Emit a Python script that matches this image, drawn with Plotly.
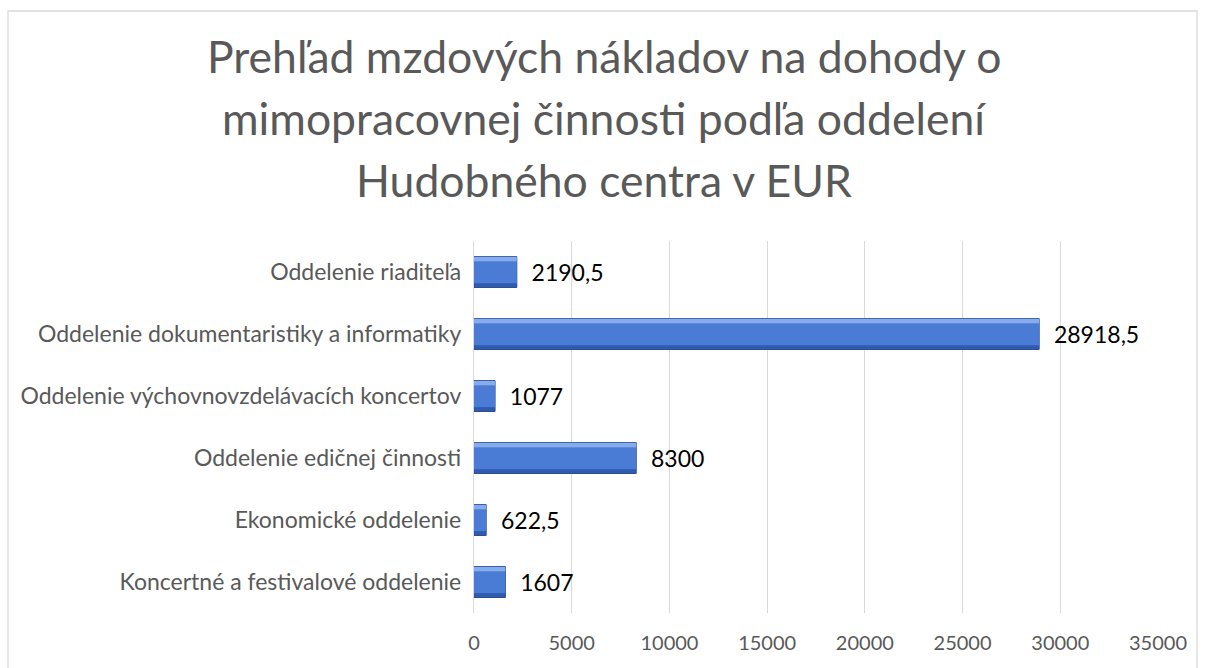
import plotly.graph_objects as go

categories = [
    "Koncertné a festivalové oddelenie",
    "Ekonomické oddelenie",
    "Oddelenie edičnej činnosti",
    "Oddelenie výchovnovzdelávacích koncertov",
    "Oddelenie dokumentaristiky a informatiky",
    "Oddelenie riaditeľa",
]
values = [1607, 622.5, 8300, 1077, 28918.5, 2190.5]
value_labels = ["1607", "622,5", "8300", "1077", "28918,5", "2190,5"]
tick_vals = [0, 5000, 10000, 15000, 20000, 25000, 30000, 35000]
title_lines = [
    "Prehľad mzdových nákladov na dohody o",
    "mimopracovnej činnosti podľa oddelení",
    "Hudobného centra v EUR",
]

FONT = "Lato, Open Sans, sans-serif"
L, R, T, B = 474, 49, 241, 55
W, H = 1207, 668
pw, ph = W - L - R, H - T - B

fig = go.Figure()
# base bar (dark bevel at bottom / outline)
fig.add_trace(go.Bar(
    y=categories, x=values, orientation="h", width=0.5,
    marker=dict(color="#2F5AAE", line=dict(color="#2A4F98", width=1)),
    text=["\u00a0\u00a0" + s for s in value_labels], textposition="outside",
    textfont=dict(family=FONT, size=23, color="#000000"),
    cliponaxis=False, hoverinfo="skip", showlegend=False,
))
# face of the bevelled bar
fig.add_trace(go.Bar(
    y=categories, x=values, orientation="h", width=0.35, offset=-0.18,
    marker=dict(color="#4A7CD6", line=dict(width=0)),
    hoverinfo="skip", showlegend=False,
))
# upper highlight
fig.add_trace(go.Bar(
    y=categories, x=values, orientation="h", width=0.075, offset=0.17,
    marker=dict(color="#86ACEE", line=dict(width=0)),
    hoverinfo="skip", showlegend=False,
))

fig.update_layout(
    width=W, height=H,
    margin=dict(l=L, r=R, t=T, b=B),
    paper_bgcolor="white", plot_bgcolor="white",
    barmode="overlay",
    font=dict(family=FONT, color="#595959"),
    xaxis=dict(
        range=[0, 35000], tickvals=tick_vals, ticktext=[str(v) for v in tick_vals],
        showgrid=True, gridcolor="#D9D9D9", gridwidth=1.3,
        zeroline=False, showline=False, ticks="", ticklabelstandoff=16,
        tickfont=dict(family=FONT, size=20, color="#595959"),
    ),
    yaxis=dict(
        categoryorder="array", categoryarray=categories,
        showgrid=False, zeroline=False, showline=True, linecolor="#D9D9D9", linewidth=1.3,
        ticks="", ticklabelstandoff=7,
        tickfont=dict(family=FONT, size=23, color="#595959"),
    ),
)

title_y_px = [55, 117, 180]
for line, py in zip(title_lines, title_y_px):
    fig.add_annotation(
        text=line, xref="paper", yref="paper",
        x=(W / 2 - L) / pw, y=(H - B - py) / ph,
        xanchor="center", yanchor="middle", showarrow=False,
        font=dict(family=FONT, size=44.5, color="#595959"),
    )

# outer chart border
fig.add_shape(
    type="rect", xref="paper", yref="paper",
    x0=(8 - L) / pw, x1=(1197 - L) / pw,
    y0=(H - B - 690) / ph, y1=(H - B - 11) / ph,
    line=dict(color="#D9D9D9", width=1.3), fillcolor="rgba(0,0,0,0)", layer="below",
)

fig.write_html(
    "out.html",
    config={"displayModeBar": False},
    post_script="document.body.style.margin='0';document.body.style.overflow='hidden';",
)
